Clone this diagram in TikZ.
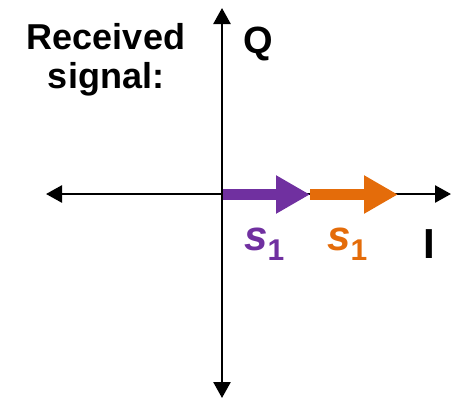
\documentclass[tikz,border=0pt]{standalone}
\usepackage{fontspec}
\setmainfont{Liberation Sans}
\usetikzlibrary{arrows.meta}
\definecolor{sigpurple}{RGB}{112,48,160}
\definecolor{sigorange}{RGB}{228,108,10}
\begin{document}
\begin{tikzpicture}[x=1pt,y=-1pt,
  axis/.style={line width=2.6pt,{Triangle[length=16pt,width=17pt]}-{Triangle[length=16pt,width=17pt]}},
  vec/.style={line width=11pt,-{Triangle[length=34pt,width=36pt]}},
  lbl/.style={inner sep=0pt,anchor=base west,font=\bfseries}]
\useasboundingbox (0,0) rectangle (458,400);
\coordinate (L) at (46,194);
\coordinate (R) at (451,194);
\coordinate (T) at (222,8);
\coordinate (B) at (222,398);
\coordinate (O) at (223,194.5);
\coordinate (M) at (310,194.5);
\coordinate (E) at (398,194.5);
\draw[axis] (L) -- (R);
\draw[axis] (B) -- (T);
\draw[vec,sigorange] (M) -- (E);
\draw[vec,sigpurple] (O) -- (M);
\node[lbl,anchor=base] (rs1) at (106,49) {\fontsize{36}{36}\selectfont Received};
\node[lbl,anchor=base] (rs2) at (106,88) {\fontsize{36}{36}\selectfont signal:};
\node[lbl] (q) at (243,53) {\fontsize{38}{38}\selectfont Q};
\node[lbl] (i) at (423,258) {\fontsize{42}{42}\selectfont I};
\node[lbl,text=sigpurple] (s1a) at (244,250) {\fontsize{42}{42}\selectfont\itshape s\upshape\raisebox{-10pt}{\fontsize{30}{30}\selectfont 1}};
\node[lbl,text=sigorange] (s1b) at (327,250) {\fontsize{42}{42}\selectfont\itshape s\upshape\raisebox{-10pt}{\fontsize{30}{30}\selectfont 1}};
\end{tikzpicture}
\end{document}
